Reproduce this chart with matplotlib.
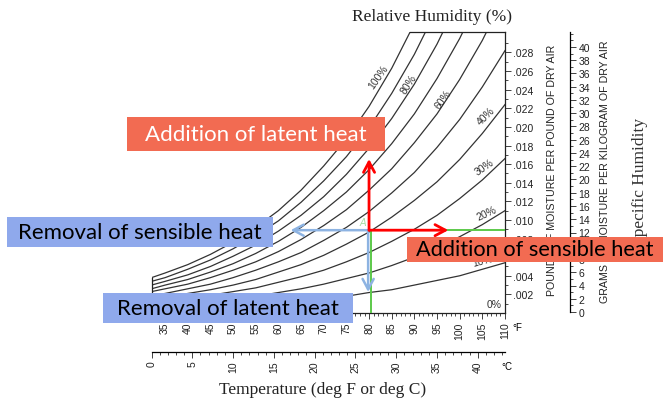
import numpy as np
import matplotlib
matplotlib.use("Agg")
import matplotlib.pyplot as plt
from matplotlib.patches import Rectangle
from matplotlib.ticker import FixedLocator, FuncFormatter

W, H = 669., 402.

# dry bulb temperature (deg F) where the curves were read
temps = [32, 35, 40, 45, 50, 55, 60, 65, 70, 75, 80, 85, 90, 95, 100, 105, 110]

# humidity ratio (lb moisture / lb dry air)
w_100 = [0.0038, 0.0043, 0.0052, 0.0063, 0.0076, 0.0092, 0.0110, 0.0132, 0.0158, 0.0187, 0.0222, 0.0263, 0.0311, 0.0366, 0.0430, 0.0505, 0.0592]
w_90 = [0.0034, 0.0038, 0.0047, 0.0057, 0.0069, 0.0083, 0.0099, 0.0119, 0.0142, 0.0168, 0.0199, 0.0236, 0.0278, 0.0327, 0.0384, 0.0451, 0.0527]
w_80 = [0.0030, 0.0034, 0.0041, 0.0050, 0.0061, 0.0073, 0.0088, 0.0105, 0.0125, 0.0149, 0.0177, 0.0209, 0.0246, 0.0289, 0.0339, 0.0397, 0.0464]
w_70 = [0.0026, 0.0030, 0.0036, 0.0044, 0.0053, 0.0064, 0.0077, 0.0092, 0.0110, 0.0130, 0.0154, 0.0182, 0.0214, 0.0252, 0.0295, 0.0345, 0.0403]
w_60 = [0.0023, 0.0026, 0.0031, 0.0038, 0.0046, 0.0055, 0.0066, 0.0079, 0.0094, 0.0111, 0.0132, 0.0155, 0.0183, 0.0214, 0.0251, 0.0293, 0.0342]
w_50 = [0.0019, 0.0021, 0.0026, 0.0031, 0.0038, 0.0046, 0.0055, 0.0065, 0.0078, 0.0092, 0.0109, 0.0129, 0.0151, 0.0178, 0.0208, 0.0243, 0.0282]
w_40 = [0.0015, 0.0017, 0.0021, 0.0025, 0.0030, 0.0036, 0.0044, 0.0052, 0.0062, 0.0074, 0.0087, 0.0103, 0.0121, 0.0141, 0.0165, 0.0193, 0.0224]
w_30 = [0.0011, 0.0013, 0.0015, 0.0019, 0.0023, 0.0027, 0.0033, 0.0039, 0.0046, 0.0055, 0.0065, 0.0077, 0.0090, 0.0105, 0.0123, 0.0143, 0.0166]
w_20 = [0.0008, 0.0008, 0.0010, 0.0013, 0.0015, 0.0018, 0.0022, 0.0026, 0.0031, 0.0037, 0.0043, 0.0051, 0.0060, 0.0070, 0.0082, 0.0095, 0.0110]
w_10 = [0.0004, 0.0004, 0.0005, 0.0006, 0.0008, 0.0009, 0.0011, 0.0013, 0.0015, 0.0018, 0.0022, 0.0025, 0.0030, 0.0035, 0.0040, 0.0047, 0.0054]
curves = [w_100, w_90, w_80, w_70, w_60, w_50, w_40, w_30, w_20, w_10]

# curve labels: text, temperature, humidity ratio, angle
rh_labels = ["100%", "80%", "60%", "40%", "30%", "20%", "10%", "0%"]
rh_label_t = [82.0, 88.7, 96.4, 105.7, 105.5, 105.9, 105.0, 107.7]
rh_label_w = [0.0254, 0.0246, 0.0230, 0.0212, 0.0157, 0.0108, 0.0056, 0.0010]
rh_label_rot = [55, 57, 54, 45, 35, 25, 15, 0]

# the air state and the four process arrows
state_t, state_w = 80.0, 0.0089
heat_add_t = 97.5      # addition of sensible heat
heat_rem_t = 62.7      # removal of sensible heat
moist_add_w = 0.01655  # addition of latent heat
moist_rem_w = 0.00226  # removal of latent heat

red = '#FF0000'
blue = '#8DB3E2'
green = '#5CC94A'
box_red = '#F26B52'
box_blue = '#8FA9EC'
line_col = '#333333'

y_top = 0.0302

fig = plt.figure(figsize=(W/100, H/100), dpi=100)
ax = fig.add_axes([151.5/W, 88/H, 353.5/W, 281/H])
ax.set_xlim(32, 110)
ax.set_ylim(0, y_top)
ax.patch.set_visible(False)

for w in curves:
    ax.plot(temps, w, color=line_col, lw=0.9)

for s, t, w, r in zip(rh_labels, rh_label_t, rh_label_w, rh_label_rot):
    ax.text(t, w, s, rotation=r, ha='center', va='center', fontsize=7.5,
            family='Liberation Sans', color=line_col, rotation_mode='anchor')

# frame of the chart
for side in ['left', 'right', 'top', 'bottom']:
    ax.spines[side].set_linewidth(0.9)
    ax.spines[side].set_color('#222222')
ax.spines['left'].set_bounds(0, w_100[0])
ax.spines['top'].set_bounds(np.interp(y_top, w_100, temps), 110)

ax.xaxis.set_major_locator(FixedLocator(range(35, 111, 5)))
ax.xaxis.set_minor_locator(FixedLocator(range(32, 111, 1)))
ax.tick_params(axis='x', which='major', direction='out', length=4, width=0.6,
               labelsize=7.5, labelrotation=90, pad=2, colors='#222222')
ax.tick_params(axis='x', which='minor', direction='out', length=2.5, width=0.5)
for lab in ax.get_xticklabels():
    lab.set_family('Liberation Sans')

ax.yaxis.tick_right()
ax.yaxis.set_major_locator(FixedLocator(np.arange(0.002, 0.0285, 0.002)))
ax.yaxis.set_minor_locator(FixedLocator(np.arange(0.001, 0.030, 0.001)))
ax.yaxis.set_major_formatter(FuncFormatter(lambda v, p: ('%.3f' % v)[1:]))
ax.tick_params(axis='y', which='major', direction='out', length=4, width=0.6,
               labelsize=7.5, pad=2, colors='#222222')
ax.tick_params(axis='y', which='minor', direction='out', length=2, width=0.5)
for lab in ax.get_yticklabels():
    lab.set_family('Liberation Sans')

# deg C scale under the deg F one
sec = ax.secondary_xaxis(-0.139, functions=(lambda f: (f-32)/1.8, lambda c: c*1.8+32))
sec.xaxis.set_major_locator(FixedLocator(range(0, 41, 5)))
sec.xaxis.set_minor_locator(FixedLocator(range(0, 44, 1)))
sec.tick_params(axis='x', which='major', direction='out', length=4, width=0.6,
                labelsize=7.5, labelrotation=90, pad=2, colors='#222222')
sec.tick_params(axis='x', which='minor', direction='out', length=2.5, width=0.5)
sec.spines['bottom'].set_linewidth(0.9)
for lab in sec.get_xticklabels():
    lab.set_family('Liberation Sans')

# grams per kilogram scale
ax2 = fig.add_axes([570/W, 89/H, 0.0001, 280/H])
ax2.set_ylim(0, 280/6.625)
ax2.patch.set_visible(False)
for side in ['left', 'top', 'bottom']:
    ax2.spines[side].set_visible(False)
ax2.spines['right'].set_linewidth(0.9)
ax2.set_xticks([])
ax2.yaxis.tick_right()
ax2.yaxis.set_major_locator(FixedLocator(range(0, 41, 2)))
ax2.yaxis.set_minor_locator(FixedLocator(range(0, 43, 1)))
ax2.tick_params(axis='y', which='major', direction='out', length=4.5, width=0.6,
                labelsize=7.5, pad=1.5, colors='#222222')
ax2.tick_params(axis='y', which='minor', direction='out', length=2.5, width=0.5)
for lab in ax2.get_yticklabels():
    lab.set_family('Liberation Sans')

# process lines
ax.plot([state_t, 110], [state_w, state_w], color=green, lw=1.4, zorder=3)
ax.plot([state_t + 0.35, state_t + 0.35], [state_w, 0], color=green, lw=1.4, zorder=3)
ax.text(state_t - 1.3, state_w + 0.0009, 'A', color='#A5DDA0', fontsize=7,
        ha='center', va='center', style='italic')

def arrow(x0, y0, x1, y1, col, lw):
    ax.annotate('', xy=(x1, y1), xytext=(x0, y0),
                arrowprops=dict(arrowstyle='->,head_length=0.75,head_width=0.4',
                                color=col, lw=lw, shrinkA=0, shrinkB=0), zorder=4)

arrow(state_t - 0.2, state_w, heat_rem_t, state_w, blue, 1.8)
arrow(state_t - 0.2, state_w, state_t - 0.2, moist_rem_w, blue, 1.8)
arrow(state_t, state_w, state_t, moist_add_w, red, 2.0)
arrow(state_t, state_w, heat_add_t, state_w, red, 2.0)

# text around the chart
fig.text(432/W, 1-17/H, 'Relative Humidity (%)', family='Liberation Serif', fontsize=12.5,
         ha='center', va='center', color='#222222')
fig.text(323/W, 1-390/H, 'Temperature (deg F or deg C)', family='Liberation Serif', fontsize=12.5,
         ha='center', va='center', color='#222222')
fig.text(517/W, 1-328/H, '°F', family='Liberation Sans', fontsize=7, ha='center', va='center')
fig.text(507/W, 1-367/H, '°C', family='Liberation Sans', fontsize=7, ha='center', va='center')
fig.text(552/W, 1-170/H, 'POUNDS OF MOISTURE PER POUND OF DRY AIR', rotation=90,
         family='Liberation Sans', fontsize=7.7, ha='center', va='center', color='#222222')
fig.text(605/W, 1-172/H, 'GRAMS OF MOISTURE PER KILOGRAM OF DRY AIR', rotation=90,
         family='Liberation Sans', fontsize=7.7, ha='center', va='center', color='#222222')
fig.text(640/W, 1-182/H, 'Specific Humidity', rotation=90, family='Liberation Serif',
         fontsize=12.5, ha='center', va='center', color='#333333')

# coloured label boxes (pixel extents)
def label_box(x0, y0, x1, y1, text, face, tcol, size=16):
    fig.add_artist(Rectangle((x0/W, 1-y1/H), (x1-x0)/W, (y1-y0)/H, transform=fig.transFigure,
                             facecolor=face, edgecolor='none', zorder=10))
    fig.text((x0+x1)/2/W, 1-(y0+y1)/2/H, text, ha='center', va='center', color=tcol,
             family='Lato', fontsize=size, zorder=11)

label_box(127, 118, 385, 152, 'Addition of latent heat', box_red, 'white')
label_box(7, 218, 273, 248, 'Removal of sensible heat', box_blue, 'black')
label_box(407, 238, 663, 263, 'Addition of sensible heat', box_red, 'black', 15.7)
label_box(103, 294, 353, 324, 'Removal of latent heat', box_blue, 'black')

fig.savefig('out.png', dpi=100)
